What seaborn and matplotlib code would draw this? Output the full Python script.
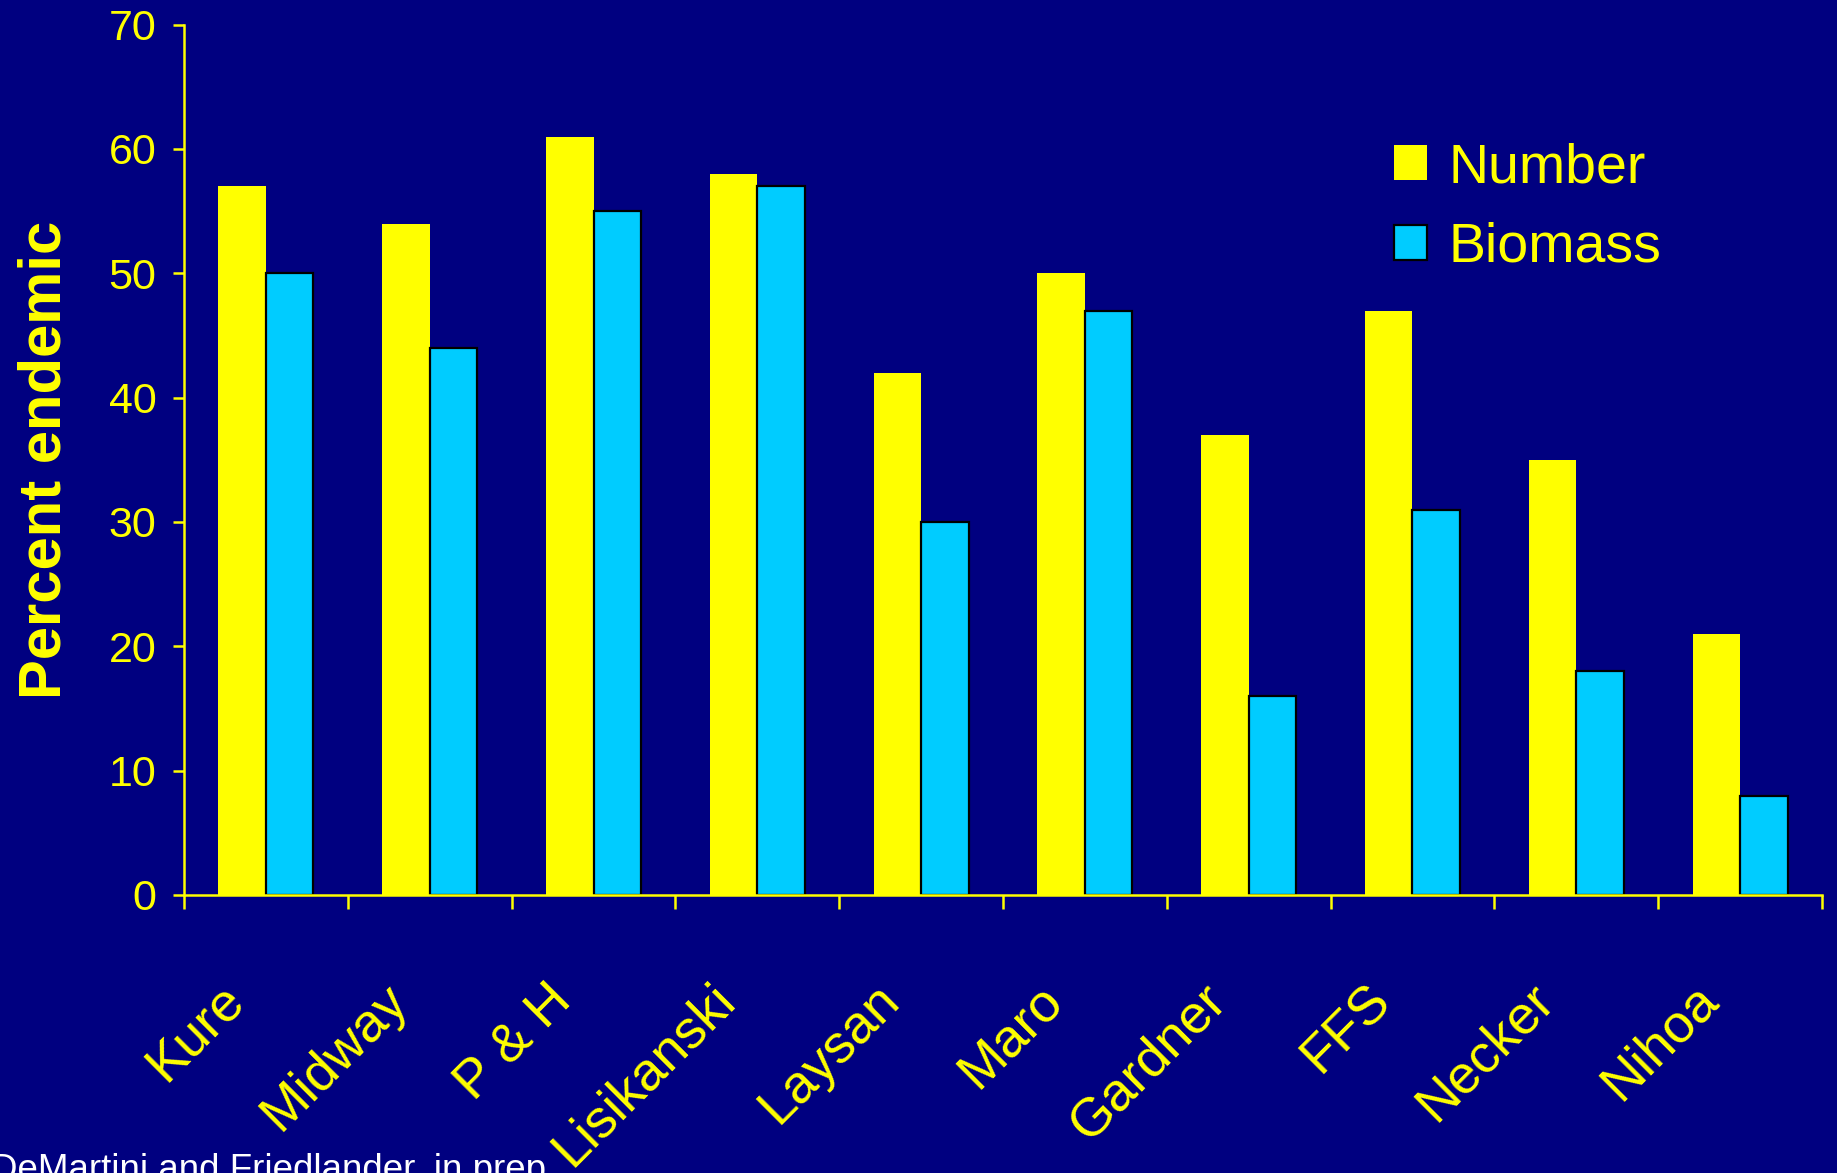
import matplotlib
matplotlib.use("Agg")
import matplotlib.pyplot as plt
import matplotlib.transforms as mtransforms
import seaborn as sns
import pandas as pd
import numpy as np

islands = ["Kure", "Midway", "P & H", "Lisikanski", "Laysan", "Maro",
           "Gardner", "FFS", "Necker", "Nihoa"]
number = [57, 54, 61, 58, 42, 50, 37, 47, 35, 21]
biomass = [50, 44, 55, 57, 30, 47, 16, 31, 18, 8]
series = ["Number", "Biomass"]
yticks = [0, 10, 20, 30, 40, 50, 60, 70]

BG = "#000080"
YEL = "#FFFF00"
CYAN = "#00CCFF"

sns.set_theme(style="white")
plt.rcParams["font.family"] = ["Liberation Sans", "DejaVu Sans"]

df = pd.DataFrame({
    "island": islands * 2,
    "series": [series[0]] * len(islands) + [series[1]] * len(islands),
    "value": number + biomass,
})

fig = plt.figure(figsize=(18.37, 11.73), dpi=100, facecolor=BG)
ax = fig.add_axes([0.1002, 0.237, 0.8916, 0.742])
ax.set_facecolor(BG)

sns.barplot(data=df, x="island", y="value", hue="series", order=islands,
            hue_order=series, palette=[YEL, CYAN], width=0.58, gap=0,
            saturation=1, ax=ax, legend=False)

for p in ax.containers[0]:
    p.set_edgecolor("none")
    p.set_linewidth(0)
for p in ax.containers[1]:
    p.set_edgecolor("black")
    p.set_linewidth(1.6)

ax.set_xlim(-0.5, len(islands) - 0.5)
ax.set_ylim(0, 70)
ax.set_yticks(yticks)
ax.set_yticklabels([str(v) for v in yticks], color=YEL, fontsize=31)

# x tick marks at category boundaries, labels at centers
ax.set_xticks(np.arange(-0.5, len(islands)), minor=True)
ax.set_xticks(np.arange(len(islands)))
ax.set_xticklabels(islands, color=YEL, fontsize=39, rotation=45,
                   ha="right", va="center", rotation_mode="anchor")
ax.tick_params(axis="x", which="major", length=0, pad=70)
ax.tick_params(axis="x", which="minor", length=10, width=1.8, color=YEL,
               direction="out", bottom=True)
ax.tick_params(axis="y", length=8, width=1.8, color=YEL, direction="out",
               left=True, pad=12)
shift = mtransforms.ScaledTranslation(-0.3, 0, fig.dpi_scale_trans)
for lbl in ax.get_xticklabels():
    lbl.set_transform(lbl.get_transform() + shift)

for s in ["top", "right"]:
    ax.spines[s].set_visible(False)
for s in ["left", "bottom"]:
    ax.spines[s].set_color(YEL)
    ax.spines[s].set_linewidth(1.8)

ax.set_xlabel("")
ax.set_ylabel("Percent endemic", color=YEL, fontsize=43, fontweight="bold",
              labelpad=26)

handles = [ax.containers[0], ax.containers[1]]
leg = ax.legend(handles, series, loc="upper left",
                bbox_to_anchor=(0.7215, 0.897), frameon=False, fontsize=40,
                handlelength=0.6, handleheight=0.6, handletextpad=0.38,
                labelspacing=0.5, labelcolor=YEL, borderpad=0)

fig.text(-0.005, 0.017, "DeMartini and Friedlander, in prep.",
         color="white", fontsize=26.5, ha="left", va="top")

fig.savefig("out.png", dpi=100, facecolor=BG)
